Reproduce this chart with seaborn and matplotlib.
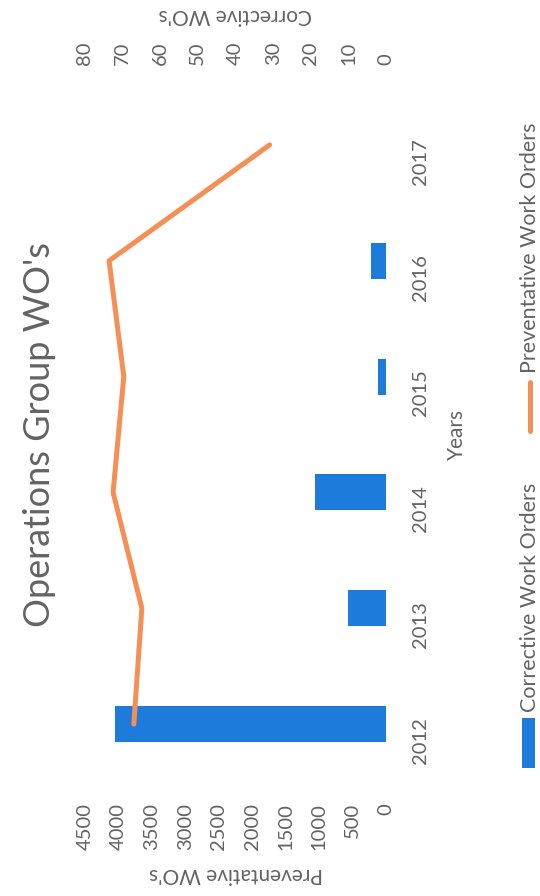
import matplotlib
matplotlib.use("Agg")
import matplotlib.pyplot as plt
import seaborn as sns
import pandas as pd
from matplotlib.patches import Rectangle
from matplotlib.lines import Line2D

# ---- data ----
years = ["2012", "2013", "2014", "2015", "2016", "2017"]
corrective = [72, 10, 19, 2, 4, 0]
preventative = [3770, 3650, 4080, 3920, 4140, 1740]
prev_ticks = [0, 500, 1000, 1500, 2000, 2500, 3000, 3500, 4000, 4500]
corr_ticks = [0, 10, 20, 30, 40, 50, 60, 70, 80]

title = "Operations Group WO's"
corr_label = "Corrective Work Orders"
prev_label = "Preventative Work Orders"

BLUE = "#1C7BDB"
ORANGE = "#F58F55"
GRAY = "#636363"

sns.set_theme(style="white")
plt.rcParams["font.family"] = ["Lato", "DejaVu Sans"]

W, H = 540, 896
fig = plt.figure(figsize=(W / 100, H / 100), dpi=100)
L, R, T, B = 85, 386, 87, 782
ax = fig.add_axes([L / W, 1 - B / H, (R - L) / W, (B - T) / H])

df = pd.DataFrame({"Year": years, "Corrective": corrective, "Preventative": preventative})
order = years[::-1]  # 2017 at top, 2012 at bottom

sns.barplot(data=df, x="Corrective", y="Year", order=order, orient="h",
            color=BLUE, saturation=1, width=0.31, linewidth=0, ax=ax)

ax2 = ax.twiny()
pos = [order.index(y) for y in years]
sns.lineplot(x=preventative, y=pos, sort=False, estimator=None, ax=ax2,
             color=ORANGE, linewidth=3.6, solid_capstyle="round")

ax.set_xlim(80, 0)
ax2.set_xlim(4500, 0)
ax.set_ylim(5.5, -0.5)

# corrective axis at top, preventative axis at bottom
ax.xaxis.tick_top()
ax.xaxis.set_label_position("top")
ax2.xaxis.tick_bottom()
ax2.xaxis.set_label_position("bottom")
ax.set_xticks(corr_ticks)
ax2.set_xticks(prev_ticks)
ax.set_xticklabels([str(v) for v in corr_ticks])
ax2.set_xticklabels([str(v) for v in prev_ticks])

ax.yaxis.tick_right()
ax.yaxis.set_label_position("right")

FS = 14.5
ax.tick_params(axis="x", labelrotation=90, length=0, pad=16, labelsize=FS, labelcolor=GRAY)
ax2.tick_params(axis="x", labelrotation=90, length=0, pad=15, labelsize=FS, labelcolor=GRAY)
ax.tick_params(axis="y", labelrotation=90, length=0, pad=19, labelsize=FS, labelcolor=GRAY)

for a in (ax, ax2):
    for s in a.spines.values():
        s.set_visible(False)
    a.grid(False)

ax.set_xlabel("Corrective WO's", rotation=180, fontsize=15, color=GRAY, ha="center", va="center")
ax.xaxis.set_label_coords(0.5, 1 + (T - 15) / (B - T))
ax2.set_xlabel("Preventative WO's", rotation=180, fontsize=15, color=GRAY, ha="center", va="center")
ax2.xaxis.set_label_coords(0.5, -(874 - B) / (B - T))
ax2.set_ylabel("")
ax.set_ylabel("Years", rotation=90, fontsize=15, color=GRAY, ha="center", va="center")
ax.yaxis.set_label_coords(1 + (457 - R) / (R - L), 0.5)

fig.text(40 / W, 1 - 435 / H, title, rotation=90, ha="center", va="center",
         fontsize=26, color=GRAY)

# legend (rotated)
fig.add_artist(Rectangle((522 / W, 1 - 768 / H), 13 / W, 50 / H,
                         transform=fig.transFigure, color=BLUE, lw=0))
fig.text(529.5 / W, 1 - 712 / H, corr_label, rotation=90, ha="center", va="bottom",
         fontsize=15.5, color=GRAY)
fig.add_artist(Line2D([529.5 / W, 529.5 / W], [1 - 431 / H, 1 - 382 / H],
                      transform=fig.transFigure, color=ORANGE, lw=3.6,
                      solid_capstyle="round"))
fig.text(529.5 / W, 1 - 373 / H, prev_label, rotation=90, ha="center", va="bottom",
         fontsize=15.5, color=GRAY)

fig.savefig("out.png", dpi=100)
